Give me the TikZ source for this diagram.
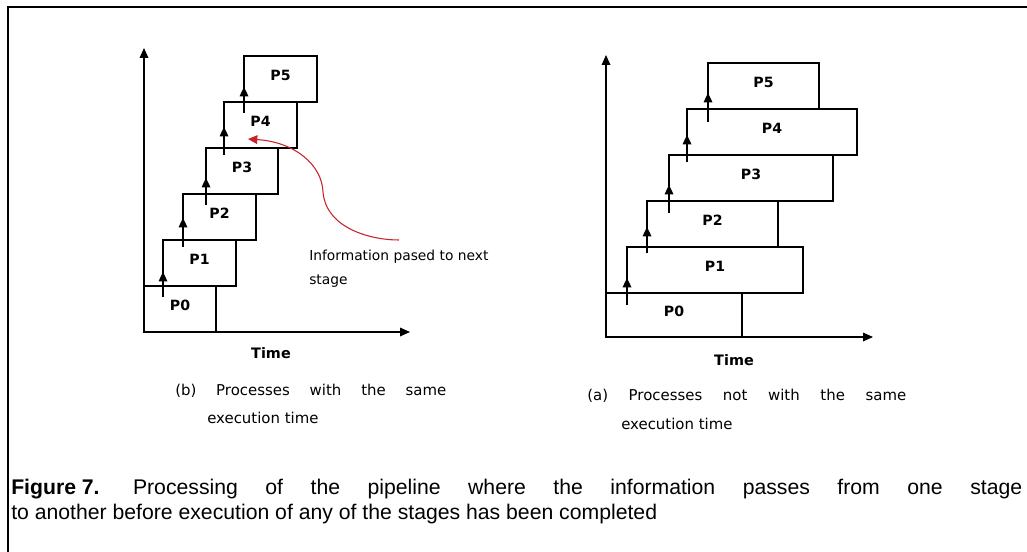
\documentclass[tikz,border=0pt]{standalone}
\usepackage{fontspec}
\setmainfont{Liberation Sans}
\newfontfamily\dia{DejaVu Sans}
\usetikzlibrary{arrows.meta}
\definecolor{infored}{RGB}{200,35,40}

% one stage of the pipeline: name, left, top, right, bottom, label
\newcommand\stagenode[6]{%
  \node[stagebox, minimum width={(#4-#2)*0.75pt}, minimum height={(#5-#3)*0.75pt}]
    (#1) at ({(#2+#4)/2},{(#3+#5)/2}) {};
  \node[stagelabel] (#1l) at ([yshift=2.6pt]#1.center) {#6};}

% hand-over arrow from one stage to the next: name, x, start y, tip y
\newcommand\passarrow[4]{%
  \coordinate (#1a) at (#2,#3);
  \coordinate (#1b) at (#2,#4);
  \draw[flow] (#1a) -- (#1b);}

\begin{document}
\begin{tikzpicture}[x=0.75pt,y=-0.75pt,
  frame/.style={line width=1.5pt},
  axis/.style={line width=0.9pt,-{Triangle[length=7.5pt,width=6.5pt]}},
  stagebox/.style={draw, line width=0.9pt, inner sep=0pt, outer sep=0pt},
  stagelabel/.style={font=\dia\bfseries\fontsize{10.6pt}{12pt}\selectfont, inner sep=0pt},
  flow/.style={line width=0.9pt,-{Triangle[length=7pt,width=6.5pt]}},
  note/.style={font=\dia\fontsize{10.35pt}{12pt}\selectfont, inner sep=0pt},
  subcap/.style={font=\dia\fontsize{11.2pt}{12pt}\selectfont, inner sep=0pt, anchor=base west},
  axislabel/.style={font=\dia\bfseries\fontsize{10.8pt}{12pt}\selectfont, inner sep=0pt, anchor=base},
  caption/.style={font=\fontsize{15.9pt}{19pt}\selectfont\frenchspacing, inner sep=0pt, anchor=base west},
  infoarrow/.style={draw=infored, line width=0.8pt,-{Triangle[length=7pt,width=6.5pt]}},
]
\useasboundingbox (0,0) rectangle (1027,552);

% page frame (left and top rules)
\draw[frame] (8,552) -- (8,7) -- (1027,7);

% ---------- (b) equal execution times ----------
\coordinate (lo) at (144,332);
\coordinate (ly) at (144,48);
\coordinate (lx) at (410,332);
\draw[axis] (lo) -- (ly);
\draw[axis] (lo) -- (lx);

\stagenode{lp0}{144}{286}{216}{332}{P0}
\stagenode{lp1}{163}{240}{236}{286}{P1}
\stagenode{lp2}{183}{194}{256}{240}{P2}
\stagenode{lp3}{206}{148}{278}{194}{P3}
\stagenode{lp4}{224}{102}{297}{148}{P4}
\stagenode{lp5}{244}{56}{317}{102}{P5}

\passarrow{la0}{163}{297}{272}
\passarrow{la1}{183}{247}{218}
\passarrow{la2}{206}{205}{178}
\passarrow{la3}{224}{155}{127}
\passarrow{la4}{244}{113}{87}

\node[axislabel] (ltime) at (271,358) {Time};
\node[subcap] (lcap1) at (175,395) {\makebox[203.25pt][s]{(b) Processes with the same}};
\node[subcap] (lcap2) at (207,423) {execution time};

% information handed to the next stage
\node[note, anchor=base west] (info1) at (309,261) {Information pased to next};
\node[note, anchor=base west] (info2) at (309,284) {stage};
\coordinate (infostart) at (399,240);
\coordinate (infotip) at (248,139);
\draw[infoarrow] (infostart) .. controls (370,240) and (326,228) .. (323,192)
  .. controls (322,165) and (295,142) .. (infotip);

% ---------- (a) different execution times ----------
\coordinate (ro) at (606,337);
\coordinate (ry) at (606,55);
\coordinate (rx) at (873,337);
\draw[axis] (ro) -- (ry);
\draw[axis] (ro) -- (rx);

\stagenode{rp0}{606}{293}{742}{337}{P0}
\stagenode{rp1}{627}{247}{803}{293}{P1}
\stagenode{rp2}{647}{201}{778}{247}{P2}
\stagenode{rp3}{669}{155}{833}{201}{P3}
\stagenode{rp4}{687}{109}{857}{155}{P4}
\stagenode{rp5}{708}{63}{819}{109}{P5}

\passarrow{ra0}{627}{305}{278}
\passarrow{ra1}{647}{253}{227}
\passarrow{ra2}{669}{213}{185}
\passarrow{ra3}{687}{162}{135}
\passarrow{ra4}{708}{122}{93}

\node[axislabel] (rtime) at (734,365) {Time};
\node[subcap] (rcap1) at (587,400) {\makebox[239.25pt][s]{(a) Processes not with the same}};
\node[subcap] (rcap2) at (621,429) {execution time};

% ---------- figure caption (first line set full width) ----------
\node[caption] (cap1) at (11,494) {\makebox[758.25pt][s]{\textbf{Figure\hspace{0.278em}7.}\hspace{0.278em}\ Processing of the pipeline where the information passes from one stage}};
\node[caption] (cap2) at (11,519) {to another before execution of any of the stages has been completed};
\end{tikzpicture}
\end{document}
